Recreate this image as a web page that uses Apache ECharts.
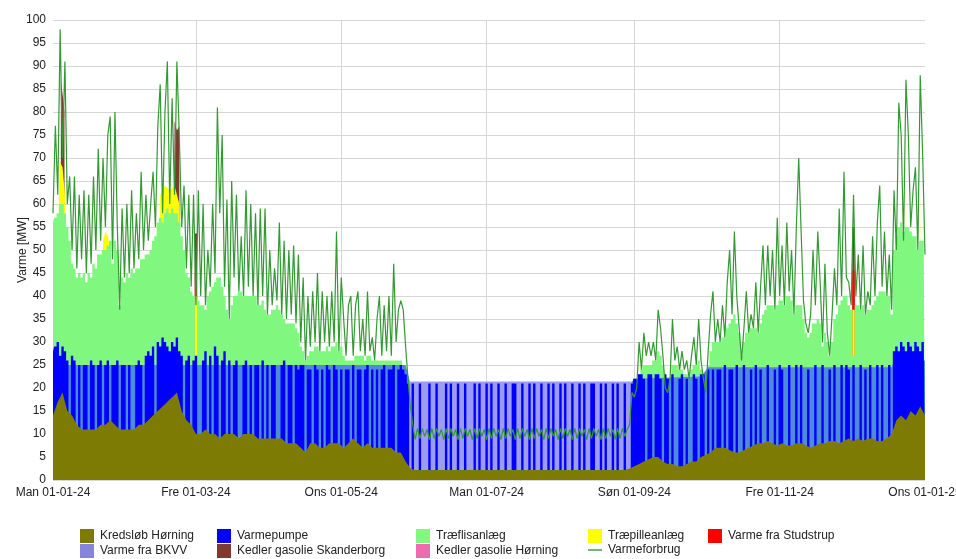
<!DOCTYPE html>
<html>
<head>
<meta charset="utf-8">
<script src="https://cdn.jsdelivr.net/npm/echarts@6/dist/echarts.min.js"></script>
<style>
  html, body { margin: 0; padding: 0; background: #fff; overflow: hidden; }
  #chart { width: 956px; height: 559px; }
</style>
</head>
<body>
<div id="chart"></div>
<script>
// x = dag i året (0 = 01-01-24, 366 = 01-01-25)
const tickDays = [0, 60, 121, 182, 244, 305, 366];
const tickLabels = ['Man 01-01-24', 'Fre 01-03-24', 'Ons 01-05-24', 'Man 01-07-24', 'Søn 01-09-24', 'Fre 01-11-24', 'Ons 01-01-25'];
const gridDays = [60, 121, 182, 244, 305];

// Varmeforbrug, en værdi pr. dag (MW)
const forbrug = [
  58, 77, 62, 98, 70, 91, 60, 66, 50, 66,
  46, 62, 48, 63, 45, 62, 47, 66, 50, 72,
  52, 70, 55, 75, 79, 48, 80, 55, 37, 59,
  44, 60, 45, 63, 46, 58, 48, 67, 50, 62,
  52, 60, 67, 55, 77, 86, 58, 80, 91, 60,
  83, 62, 91, 75, 55, 64, 46, 62, 42, 62,
  38, 63, 40, 60, 38, 50, 42, 60, 45, 81,
  58, 75, 42, 61, 35, 65, 44, 62, 41, 53,
  40, 63, 42, 60, 40, 58, 38, 59, 40, 59,
  36, 50, 38, 46, 39, 56, 36, 52, 35, 50,
  36, 51, 34, 49, 30, 44, 26, 40, 29, 41,
  30, 45, 28, 41, 30, 40, 29, 41, 30, 54,
  28, 44, 35, 27, 38, 40, 27, 38, 41, 28,
  35, 27, 41, 28, 31, 26, 35, 40, 27, 38,
  28, 40, 27, 47, 30, 37, 39, 37, 29, 22,
  16, 12, 8.8, 11.2, 9, 11.2, 9.5, 11, 8.8, 11.2,
  9, 11.2, 9.5, 11, 8.8, 11.2, 9, 11.2, 9.5, 11,
  8.8, 11.2, 9, 11.2, 9.5, 11, 8.8, 11.2, 9, 11.2,
  9.5, 11, 8.8, 11.2, 9, 11.2, 9.5, 11, 8.8, 11.2,
  9, 11.2, 9.5, 11, 8.8, 11.2, 9, 11.2, 9.5, 11,
  8.8, 11.2, 9, 11.2, 9.5, 11, 8.8, 11.2, 9, 11.2,
  9.5, 11, 8.8, 11.2, 9, 11.2, 9.5, 11, 8.8, 11.2,
  9, 11.2, 9.5, 11, 8.8, 11.2, 9, 11.2, 9.5, 11,
  8.8, 11.2, 9, 11.2, 9.5, 11, 8.8, 11.2, 9, 11.2,
  9.5, 11, 12, 19, 18, 20, 30, 24, 32, 27,
  30, 27, 30, 26, 37, 33, 27, 20, 19, 22,
  35, 26, 29, 24, 28, 24, 26, 22, 27, 31,
  25, 35, 26, 22, 19, 28, 36, 41, 30, 35,
  30, 38, 31, 43, 50, 36, 54, 40, 33, 26,
  33, 41, 32, 36, 33, 43, 32, 42, 51, 38,
  51, 40, 50, 37, 57, 40, 51, 38, 56, 41,
  50, 36, 55, 70, 54, 39, 34, 32, 36, 50,
  38, 54, 43, 30, 47, 32, 27, 36, 46, 38,
  59, 40, 67, 44, 43, 38, 62, 40, 49, 37,
  51, 36, 41, 38, 53, 40, 56, 64, 42, 54,
  40, 49, 37, 63, 50, 82, 75, 52, 87, 75,
  55, 63, 68, 50, 88, 71, 49
];

// Top af Træflisanlæg (samlet produktion), en værdi pr. dag
const traeflisTop = [
  56, 57, 58, 60, 60, 58, 55, 52, 47, 46,
  44, 45, 44, 45, 43, 45, 44, 47, 46, 49,
  49, 50, 50, 51, 52, 47, 52, 50, 38, 44,
  43, 45, 44, 46, 45, 46, 46, 48, 48, 49,
  49, 50, 52, 53, 56, 57, 56, 58, 59, 58,
  59, 58, 58, 56, 53, 50, 45, 44, 41, 40,
  27, 39, 38, 38, 37, 40, 41, 42, 43, 44,
  44, 42, 40, 37, 35, 38, 40, 40, 41, 41,
  40, 40, 40, 40, 40, 40, 38, 38, 39, 37,
  36, 36, 37, 37, 38, 37, 36, 35, 34, 34,
  34, 34, 33, 32, 29, 28, 26, 27, 28, 28,
  29, 29, 28, 28, 28, 29, 28, 29, 29, 30,
  28, 29, 27, 26, 26, 26, 26, 27, 27, 27,
  27, 26, 27, 27, 26, 26, 26, 26, 26, 26,
  26, 26, 26, 26, 26, 26, 26, 25, 24, 21,
  0, 0, 0, 0, 0, 0, 0, 0, 0, 0,
  0, 0, 0, 0, 0, 0, 0, 0, 0, 0,
  0, 0, 0, 0, 0, 0, 0, 0, 0, 0,
  0, 0, 0, 0, 0, 0, 0, 0, 0, 0,
  0, 0, 0, 0, 0, 0, 0, 0, 0, 0,
  0, 0, 0, 0, 0, 0, 0, 0, 0, 0,
  0, 0, 0, 0, 0, 0, 0, 0, 0, 0,
  0, 0, 0, 0, 0, 0, 0, 0, 0, 0,
  0, 0, 0, 0, 0, 0, 0, 0, 0, 0,
  0, 0, 0, 0, 0, 20, 23, 24, 25, 25,
  25, 25, 26, 26, 28, 27, 25, 21, 20, 21,
  25, 25, 25, 24, 24, 23, 23, 22, 24, 25,
  25, 26, 24, 22, 19, 25, 28, 30, 30, 30,
  30, 31, 31, 33, 34, 35, 36, 34, 32, 27,
  30, 32, 32, 33, 33, 33, 32, 34, 36, 37,
  38, 38, 38, 37, 38, 39, 39, 38, 40, 40,
  39, 36, 38, 38, 38, 35, 32, 31, 32, 34,
  34, 35, 34, 29, 32, 30, 27, 30, 35, 36,
  38, 39, 40, 40, 38, 37, 27, 38, 38, 37,
  38, 36, 37, 37, 38, 39, 40, 41, 41, 41,
  40, 40, 36, 50, 53, 55, 56, 54, 55, 55,
  54, 53, 53, 50, 52, 52, 49
];

// Top af Varmepumpe, en værdi pr. dag (0 = pumpen kører ikke)
const varmepumpeTop = [
  28, 29, 30, 27, 29, 28, 26, 0, 27, 26,
  0, 25, 0, 25, 25, 0, 26, 25, 0, 25,
  26, 0, 25, 26, 0, 25, 25, 26, 0, 25,
  25, 0, 25, 0, 0, 25, 26, 25, 0, 27,
  28, 27, 29, 0, 30, 29, 31, 30, 29, 28,
  30, 29, 31, 28, 27, 0, 26, 27, 0, 26,
  27, 0, 0, 26, 28, 0, 27, 0, 29, 27,
  0, 26, 28, 0, 26, 0, 25, 26, 0, 0,
  25, 26, 0, 25, 0, 25, 25, 0, 26, 0,
  25, 0, 25, 25, 0, 0, 25, 26, 0, 25,
  25, 0, 25, 24, 25, 25, 0, 24, 24, 0,
  25, 24, 0, 24, 0, 25, 24, 0, 25, 24,
  0, 24, 0, 24, 24, 0, 25, 0, 24, 24,
  0, 24, 25, 0, 24, 0, 24, 0, 24, 25,
  0, 24, 24, 25, 0, 24, 25, 24, 23, 21,
  0, 21, 0, 0, 21, 0, 0, 0, 21, 0,
  0, 21, 0, 0, 0, 21, 0, 21, 0, 0,
  21, 0, 0, 21, 0, 0, 0, 21, 0, 21,
  0, 0, 21, 0, 21, 0, 0, 21, 0, 0,
  21, 0, 0, 21, 21, 0, 0, 21, 0, 0,
  21, 0, 21, 0, 0, 21, 0, 0, 21, 0,
  21, 0, 0, 21, 0, 21, 0, 0, 21, 0,
  0, 21, 0, 21, 0, 0, 21, 21, 0, 0,
  21, 0, 21, 0, 0, 21, 0, 21, 0, 0,
  21, 0, 0, 21, 22, 22, 23, 23, 22, 0,
  23, 23, 0, 23, 23, 22, 0, 23, 22, 0,
  23, 0, 0, 22, 23, 0, 22, 0, 0, 23,
  22, 0, 23, 23, 0, 24, 0, 24, 0, 24,
  24, 0, 25, 0, 24, 24, 0, 25, 0, 0,
  25, 0, 0, 24, 0, 25, 0, 24, 0, 0,
  25, 0, 0, 24, 0, 25, 24, 0, 0, 25,
  0, 0, 25, 0, 25, 0, 0, 24, 0, 0,
  25, 0, 0, 25, 0, 0, 24, 0, 25, 0,
  0, 25, 0, 25, 24, 0, 25, 0, 0, 25,
  0, 24, 0, 25, 0, 0, 25, 0, 25, 0,
  0, 25, 0, 28, 29, 28, 30, 29, 28, 30,
  29, 28, 30, 29, 28, 30, 29
];

// Top af Kredsløb Hørning, en værdi pr. 2 dage
const kredslobTop = [
  14, 17, 19, 15, 14, 12, 11, 11, 11, 11,
  12, 12, 13, 12, 11, 11, 11, 11, 12, 12,
  13, 14, 15, 16, 17, 18, 19, 15, 13, 12,
  10, 10, 11, 10, 10, 9, 10, 10, 10, 9,
  10, 10, 10, 9, 9, 9, 9, 9, 9, 8,
  8, 8, 7, 6, 8, 8, 7, 7, 8, 8,
  8, 7, 8, 9, 8, 7, 8, 7, 7, 7,
  7, 7, 6, 6, 4, 2.5, 2.2, 2.2, 2.2, 2.2,
  2.2, 2.2, 2.2, 2.2, 2.2, 2.2, 2.2, 2.2, 2.2, 2.2,
  2.2, 2.2, 2.2, 2.2, 2.2, 2.2, 2.2, 2.2, 2.2, 2.2,
  2.2, 2.2, 2.2, 2.2, 2.2, 2.2, 2.2, 2.2, 2.2, 2.2,
  2.2, 2.2, 2.2, 2.2, 2.2, 2.2, 2.2, 2.2, 2.2, 2.2,
  2.2, 2.5, 3, 3.5, 4, 4.5, 5, 5, 4, 3.5,
  3.5, 3, 3, 3.5, 4, 4, 5, 5.5, 6, 7,
  7, 7, 6.5, 6, 6, 6.5, 7, 7.5, 8, 8,
  8.5, 8, 7.5, 8, 7.5, 7.5, 8, 8, 7.5, 7,
  7.5, 8, 8, 8.5, 8.5, 8, 8.5, 9, 8.5, 9,
  8.5, 9, 9, 8.5, 8.5, 9, 10, 13, 14, 13,
  15, 14, 16, 14
];

// Top af Varme fra BKVV [dag, MW]
const bkvvTop = [[0, 25], [148, 25], [149.5, 22], [150, 21.4], [243, 21.4], [244, 22], [272, 22.5], [275, 24.5], [352, 24.5], [353, 26], [366, 26]];

// Spidslast [dag, MW-top]
const traepilleTop = [
  [2, 0], [2.5, 64], [3, 69], [4, 68], [5, 62], [5.5, 0],
  [20.5, 0], [21, 52], [22, 54], [23, 53], [24, 50], [24.5, 0],
  [44.5, 0], [45, 62], [47, 64], [49, 63], [51, 64], [53, 60], [53.5, 0],
  [59.5, 0], [59.5, 40], [60.5, 40], [60.5, 0],
  [335.5, 0], [335.5, 37], [336.5, 37], [336.5, 0],
  [355.6, 0], [356, 62], [356.4, 0],
  [358.1, 0], [358.4, 64], [358.7, 0],
  [363.7, 0], [364, 63], [364.3, 0]
];
const studstrupTop = [[59.5, 0], [59.5, 45], [60.5, 45], [60.5, 0], [335.5, 0], [335.5, 45.6], [336.5, 45.6], [336.5, 0]];
const skanderborgTop = [
  [3.2, 0], [3.3, 87], [4, 84], [4.8, 80], [5, 0],
  [50.8, 0], [51, 78], [52, 76], [53, 77], [53.2, 0],
  [59.5, 0], [59.5, 53.6], [60.5, 53.6], [60.5, 0],
  [335.5, 0], [335.5, 55], [336.5, 55], [336.5, 0]
];

const font = "'Liberation Sans', Arial, sans-serif";
const chart = echarts.init(document.getElementById('chart'), null, { renderer: 'canvas' });

function area(name, color, data, extra) {
  return Object.assign({
    name: name,
    type: 'line',
    data: data,
    color: color,
    showSymbol: false,
    symbol: 'none',
    lineStyle: { width: 0 },
    areaStyle: { opacity: 1 },
    silent: true,
    z: 2
  }, extra || {});
}

const daily = arr => arr.map((v, i) => [i, v]);
const twoDaily = arr => arr.map((v, i) => [i * 2, v]);

// BKVV: stålblå i fyringssæsonen, lavendel om sommeren
const bkvvFill = new echarts.graphic.LinearGradient(0, 0, 1, 0, [
  { offset: 0, color: '#4f8cd8' },
  { offset: 149.5 / 366, color: '#4f8cd8' },
  { offset: 149.6 / 366, color: '#9c9cf4' },
  { offset: 243 / 366, color: '#9c9cf4' },
  { offset: 243.1 / 366, color: '#4f8cd8' },
  { offset: 1, color: '#4f8cd8' }
]);

const legendCommon = {
  orient: 'vertical',
  top: 529,
  padding: 0,
  itemWidth: 14,
  itemHeight: 14,
  itemGap: 1,
  icon: 'rect',
  selectedMode: false,
  textStyle: { fontFamily: font, fontSize: 12, color: '#222', padding: [0, 0, 0, 1] }
};

const option = {
  animation: false,
  backgroundColor: '#fff',
  grid: { left: 53, right: 31, top: 20, bottom: 79, outerBoundsMode: 'none', containLabel: false },
  legend: [
    Object.assign({ left: 80, data: ['Kredsløb Hørning', 'Varme fra BKVV'] }, legendCommon),
    Object.assign({ left: 217, data: ['Varmepumpe', 'Kedler gasolie Skanderborg'] }, legendCommon),
    Object.assign({ left: 416, data: ['Træflisanlæg', 'Kedler gasolie Hørning'] }, legendCommon),
    Object.assign({ left: 588, data: ['Træpilleanlæg', { name: 'Varmeforbrug', icon: 'path://M0,0H14V1.4H0Z' }] }, legendCommon),
    Object.assign({ left: 708, data: ['Varme fra Studstrup'] }, legendCommon)
  ],
  xAxis: {
    type: 'value',
    min: 0,
    max: 366,
    axisLine: { show: false },
    axisTick: { show: false },
    splitLine: { show: false },
    axisLabel: {
      customValues: tickDays,
      formatter: v => tickLabels[tickDays.indexOf(v)] || '',
      fontFamily: font,
      fontSize: 12,
      color: '#222',
      margin: 7
    }
  },
  yAxis: {
    type: 'value',
    min: 0,
    max: 100,
    interval: 5,
    name: 'Varme [MW]',
    nameLocation: 'middle',
    nameGap: 24,
    nameMoveOverlap: false,
    nameTextStyle: { fontFamily: font, fontSize: 12, color: '#222' },
    axisLine: { show: false },
    axisTick: { show: false },
    axisLabel: { fontFamily: font, fontSize: 12, color: '#222', margin: 7 },
    splitLine: { lineStyle: { color: '#d6d6d6', width: 1 } }
  },
  series: [
    area('Kedler gasolie Skanderborg', '#7f3a2f', skanderborgTop, {
      markLine: {
        silent: true,
        z: 1,
        symbol: 'none',
        label: { show: false },
        lineStyle: { color: '#d6d6d6', type: 'solid', width: 1 },
        emphasis: { disabled: true },
        data: gridDays.map(d => ({ xAxis: d }))
      }
    }),
    area('Varme fra Studstrup', '#ff0000', studstrupTop),
    area('Træpilleanlæg', '#ffff00', traepilleTop),
    area('Træflisanlæg', '#80f880', daily(traeflisTop), { step: 'middle' }),
    area('Varme fra BKVV', '#8585dc', bkvvTop, { areaStyle: { opacity: 1, color: bkvvFill } }),
    area('Varmepumpe', '#0000ff', daily(varmepumpeTop), { step: 'middle' }),
    area('Kredsløb Hørning', '#7e7b05', twoDaily(kredslobTop)),
    area('Kedler gasolie Hørning', '#f06ab0', []),
    {
      name: 'Varmeforbrug',
      type: 'line',
      data: daily(forbrug),
      color: '#339933',
      showSymbol: false,
      symbol: 'none',
      silent: true,
      lineStyle: { width: 1.2, color: '#339933' },
      z: 3
    }
  ]
};

chart.setOption(option);
</script>
</body>
</html>
